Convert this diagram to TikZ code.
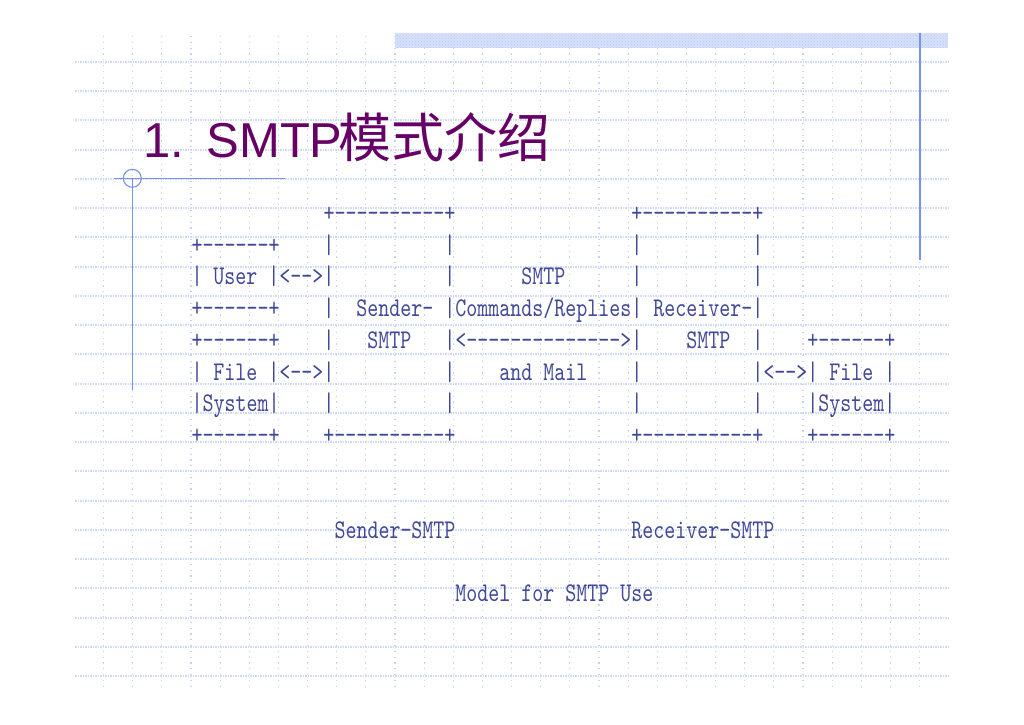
\documentclass[tikz,border=0pt]{standalone}
\usepackage{fontspec}
\setmainfont{Liberation Sans}
\newfontfamily\cjk{Noto Sans CJK SC}
\newfontfamily\asciifont[FakeStretch=0.776]{lmmono10-regular.otf}
\usetikzlibrary{patterns}
\definecolor{gridh}{RGB}{208,218,250}
\definecolor{gridv}{RGB}{196,208,248}
\definecolor{accent}{RGB}{118,146,238}
\definecolor{titlec}{RGB}{102,0,102}
\definecolor{asciic}{RGB}{66,72,152}
\definecolor{barc}{RGB}{214,224,250}
\definecolor{bardot}{RGB}{186,202,246}
\tikzset{
  gridhline/.style={draw=gridh, line width=2pt, dash pattern=on 1.5pt off 1pt},
  gridvline/.style={draw=gridv, line width=1.1pt, dash pattern=on 1.2pt off 4.6pt},
  accentline/.style={draw=accent, line width=1.1pt},
  asciitxt/.style={anchor=base west, inner sep=0pt, outer sep=0pt, text=asciic,
    font=\asciifont\fontsize{27}{27}\selectfont},
  titletxt/.style={anchor=base west, inner sep=0pt, outer sep=0pt, text=titlec,
    font=\fontsize{49}{56}\selectfont}
}
\begin{document}
\begin{tikzpicture}[x=1pt, y=-1pt]
\useasboundingbox (0,0) rectangle (1024,724);
\fill[white] (0,0) rectangle (1024,724);
% grid
\foreach \k in {0,...,21} {
  \draw[gridhline] (75,{62+29.24*\k}) -- (948,{62+29.24*\k});
}
\foreach \k in {0,...,28} {
  \draw[gridvline] ({103.6+29.14*\k},36) -- ({103.6+29.14*\k},687);
}
% top bar
\fill[barc] (395,33) rectangle (948,47.7);
\fill[pattern=crosshatch dots, pattern color=bardot] (395,33) rectangle (948,47.7);
% accent lines
\draw[accentline] (114,178.3) -- (285,178.3);
\draw[accentline] (132.3,178.3) circle[radius=9];
\draw[accentline] (132.3,178.3) -- (132.3,390);
\draw[accentline] (920,33) -- (920,260);
% title
\node[titletxt] (title) at (143.5,157) {1. \hspace{4pt}SMTP\hspace{-4pt}{\cjk\fontsize{53}{60}\selectfont 模式介绍}};
% ascii diagram
\node[asciitxt] (row1) at (191.5,221.5) {~~~~~~~~~~~~+----------+~~~~~~~~~~~~~~~~+----------+};
\node[asciitxt] (row2) at (191.5,253.2) {+------+~~~~|~~~~~~~~~~|~~~~~~~~~~~~~~~~|~~~~~~~~~~|};
\node[asciitxt] (row3) at (191.5,284.9) {|~User~|<-->|~~~~~~~~~~|~~~~~~SMTP~~~~~~|~~~~~~~~~~|};
\node[asciitxt] (row4) at (191.5,316.6) {+------+~~~~|~~Sender-~|Commands/Replies|~Receiver-|};
\node[asciitxt] (row5) at (191.5,348.3) {+------+~~~~|~~~SMTP~~~|<-------------->|~~~~SMTP~~|~~~~+------+};
\node[asciitxt] (row6) at (191.5,380.0) {|~File~|<-->|~~~~~~~~~~|~~~~and~Mail~~~~|~~~~~~~~~~|<-->|~File~|};
\node[asciitxt] (row7) at (191.5,411.7) {|System|~~~~|~~~~~~~~~~|~~~~~~~~~~~~~~~~|~~~~~~~~~~|~~~~|System|};
\node[asciitxt] (row8) at (191.5,443.4) {+------+~~~~+----------+~~~~~~~~~~~~~~~~+----------+~~~~+------+};
\node[asciitxt] (row11) at (191.5,538.5) {~~~~~~~~~~~~~Sender-SMTP~~~~~~~~~~~~~~~~Receiver-SMTP};
\node[asciitxt] (row13) at (191.5,601.9) {~~~~~~~~~~~~~~~~~~~~~~~~Model~for~SMTP~Use};
\end{tikzpicture}
\end{document}
